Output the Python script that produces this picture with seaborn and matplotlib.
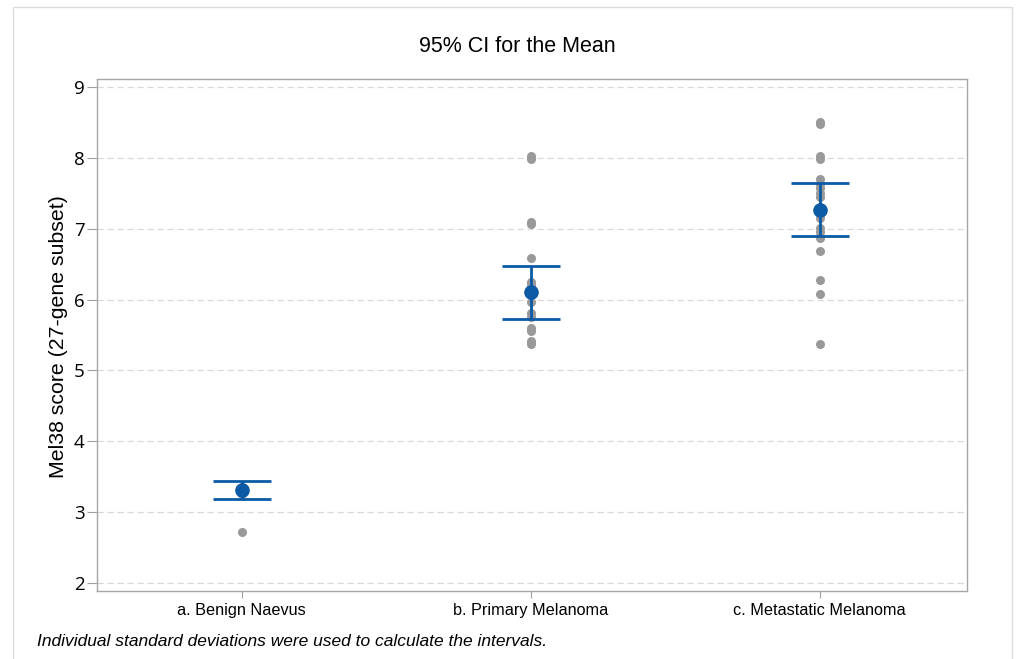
import matplotlib
matplotlib.use("Agg")
import matplotlib.pyplot as plt
import matplotlib.patches as mpatches
import seaborn as sns
import numpy as np
import pandas as pd

groups = ["a. Benign Naevus", "b. Primary Melanoma", "c. Metastatic Melanoma"]

benign_scores = [3.30, 3.32, 3.28, 3.35, 3.26, 2.72]
primary_scores = [8.02, 7.98, 7.09, 7.06, 6.59, 6.25, 6.20, 6.10, 5.96,
                  5.81, 5.76, 5.60, 5.55, 5.42, 5.37]
metastatic_scores = [8.50, 8.47, 8.02, 7.98, 7.70, 7.63, 7.57, 7.50, 7.44,
                     7.30, 7.15, 7.01, 6.95, 6.87, 6.68, 6.28, 6.08, 5.37]

group_means = [3.31, 6.10, 7.26]
ci_lower = [3.19, 5.72, 6.90]
ci_upper = [3.44, 6.47, 7.65]

yticks = [2, 3, 4, 5, 6, 7, 8, 9]

df = pd.DataFrame({
    "group": [groups[0]] * len(benign_scores)
             + [groups[1]] * len(primary_scores)
             + [groups[2]] * len(metastatic_scores),
    "score": benign_scores + primary_scores + metastatic_scores,
})

sns.set_theme(style="white")
plt.rcParams["font.family"] = ["Liberation Sans", "DejaVu Sans"]
plt.rcParams["text.color"] = "black"

fig = plt.figure(figsize=(10.18, 6.59), dpi=100)
ax = fig.add_axes([0.0953, 0.1032, 0.8546, 0.7768])

sns.stripplot(data=df, x="group", y="score", order=groups, jitter=False,
              color="#999999", size=6.5, linewidth=0, ax=ax, zorder=2)

means = np.array(group_means)
lo = np.array(ci_lower)
hi = np.array(ci_upper)
xpos = np.arange(len(groups))
ax.errorbar(xpos, means, yerr=[means - lo, hi - means], fmt="o",
            color="#0b5aa6", ms=9.5, elinewidth=2, capsize=21, capthick=2,
            zorder=3)

ax.set_xlim(-0.5, 2.51)
ax.set_ylim(1.89, 9.11)
ax.set_yticks(yticks)
ax.set_yticklabels([str(t) for t in yticks], fontsize=13.5,
                   family=["Open Sans", "DejaVu Sans"])
ax.grid(axis="y", color="#d9d9d9", linestyle=(0, (5, 3)), linewidth=0.9)
ax.set_axisbelow(True)
ax.tick_params(axis="y", length=7, width=0.8, color="#a0a0a0", pad=2,
               labelcolor="black", left=True)
ax.tick_params(axis="x", length=5, width=0.8, color="#a0a0a0", pad=4,
               labelsize=11.7, labelcolor="black", bottom=True)
ax.set_xlabel("")
ax.set_ylabel("")
for sp in ax.spines.values():
    sp.set_color("#a6a6a6")
    sp.set_linewidth(1.0)

fig.text(0.508, 0.929, "95% CI for the Mean", ha="center", va="center",
         fontsize=15.5)
fig.text(0.057, 0.49, "Mel38 score (27-gene subset)", ha="center",
         va="center", rotation=90, fontsize=15.3)
fig.text(0.036, 0.027, "Individual standard deviations were used to calculate the intervals.",
         ha="left", va="center", fontsize=12.5, style="italic")

frame = mpatches.Rectangle((0.0128, -0.02), 0.9815, 1.0094, transform=fig.transFigure,
                           fill=False, edgecolor="#dcdcdc", linewidth=1.0)
fig.patches.append(frame)

fig.savefig("out.png", dpi=100)
